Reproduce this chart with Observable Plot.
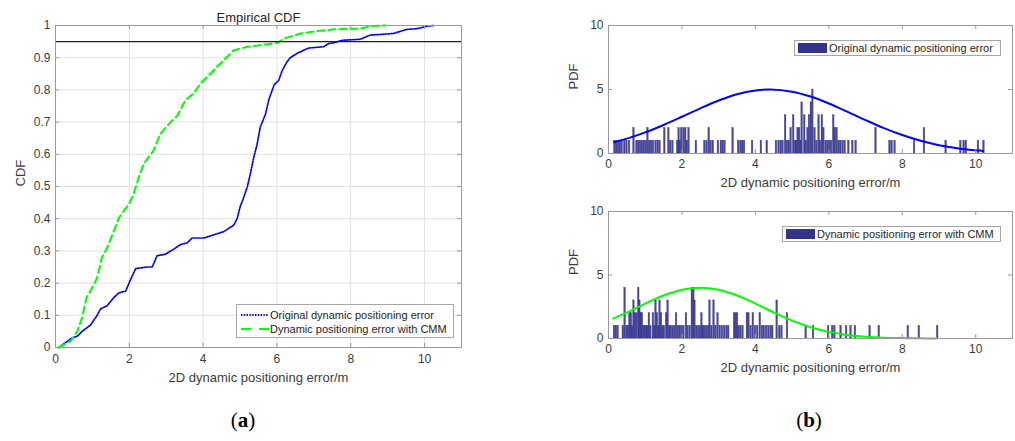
<!DOCTYPE html>
<html><head><meta charset="utf-8">
<script src="https://cdn.jsdelivr.net/npm/d3@7"></script>
<script src="https://cdn.jsdelivr.net/npm/@observablehq/plot@0.6"></script>
<style>
body{margin:0;background:#fff;}
#root{position:relative;width:1015px;height:441px;overflow:hidden;background:#fff;font-family:"Liberation Sans",Arial,sans-serif;}
.panel{position:absolute;}
.legend{position:absolute;background:#fff;border:1px solid #a6a6a6;box-sizing:border-box;font-size:11px;color:#262626;}
.legend .row{position:absolute;white-space:nowrap;line-height:12px;}
.legend svg{position:absolute;}
.tag{position:absolute;font-family:"Liberation Serif","Times New Roman",serif;font-size:21px;color:#000;transform:translateX(-50%);}
</style></head><body><div id="root"></div>
<script>
// ---------- data ----------
const xTicks = [0, 2, 4, 6, 8, 10];
const cdfTicks = [0, 0.1, 0.2, 0.3, 0.4, 0.5, 0.6, 0.7, 0.8, 0.9, 1];
const pdfTicks = [0, 5, 10];
const threshold = [0.95];

const seriesNames = ["Original dynamic positioning error", "Dynamic positioning error with CMM"];
const titleText = "Empirical CDF";
const xLabelText = "2D dynamic positioning error/m";
const cdfLabelText = "CDF";
const pdfLabelText = "PDF";

// empirical CDF, original error: [error (m), F]
const cdfOrig = [[0.09,0],[0.27,0.015],[0.45,0.03],[0.59,0.035],[0.72,0.05],[0.95,0.07],[1.13,0.1],[1.22,0.12],[1.4,0.13],[1.58,0.155],[1.72,0.17],[1.9,0.175],[2.03,0.21],[2.17,0.245],[2.48,0.25],[2.62,0.25],[2.75,0.285],[2.98,0.29],[3.2,0.305],[3.39,0.32],[3.57,0.325],[3.7,0.34],[4.02,0.34],[4.29,0.35],[4.56,0.36],[4.83,0.38],[4.92,0.4],[5.01,0.44],[5.08,0.46],[5.2,0.5],[5.28,0.54],[5.37,0.59],[5.46,0.63],[5.55,0.685],[5.69,0.725],[5.78,0.77],[5.92,0.815],[6.05,0.83],[6.14,0.86],[6.27,0.887],[6.36,0.9],[6.54,0.913],[6.72,0.923],[6.86,0.93],[7.26,0.934],[7.4,0.944],[7.53,0.946],[7.76,0.954],[8.25,0.957],[8.52,0.97],[9.15,0.975],[9.52,0.988],[9.79,0.99],[10.07,0.998],[10.25,1]];
// empirical CDF, with CMM
const cdfCmm = [[0.09,0],[0.41,0.02],[0.59,0.05],[0.72,0.093],[0.84,0.155],[0.95,0.176],[1.13,0.217],[1.26,0.28],[1.4,0.31],[1.58,0.362],[1.72,0.403],[1.85,0.424],[1.99,0.445],[2.12,0.478],[2.26,0.53],[2.39,0.571],[2.66,0.612],[2.84,0.664],[3.12,0.7],[3.3,0.72],[3.52,0.768],[3.75,0.79],[3.93,0.82],[4.16,0.846],[4.38,0.872],[4.65,0.903],[4.83,0.923],[5.2,0.934],[5.55,0.939],[6.01,0.946],[6.2,0.96],[6.64,0.975],[7.09,0.983],[7.54,0.988],[8.26,0.99],[8.53,0.998],[8.94,1]];

// histogram bins: [bin position (m), count]
const histOrig = [[0.15,1],[0.2,1],[0.25,1],[0.3,1],[0.35,1],[0.42,1],[0.48,1],[0.55,1],[0.67,2],[0.75,1],[0.8,1],[0.85,1],[0.9,1],[0.95,1],[1.0,1],[1.05,2],[1.1,1],[1.15,1],[1.2,1],[1.27,1],[1.33,1],[1.38,1],[1.51,2],[1.62,2],[1.67,1],[1.73,1],[1.86,1],[1.9,2],[1.93,1],[1.97,2],[2.03,2],[2.08,2],[2.12,1],[2.17,2],[2.37,1],[2.6,1],[2.66,1],[2.72,2],[2.77,1],[2.83,1],[2.97,1],[3.05,1],[3.1,1],[3.15,1],[3.37,2],[3.52,1],[3.58,1],[3.63,1],[3.68,1],[3.9,1],[4.14,1],[4.3,1],[4.55,1],[4.62,1],[4.68,1],[4.73,1],[4.8,3],[4.85,1],[4.9,1],[4.95,2],[5.02,3],[5.07,1],[5.1,1],[5.14,2],[5.18,2],[5.22,1],[5.25,4],[5.32,3],[5.36,1],[5.41,2],[5.45,3],[5.5,4],[5.54,5],[5.6,2],[5.65,1],[5.71,3],[5.75,1],[5.8,3],[5.84,2],[5.9,1],[5.95,1],[6.0,1],[6.05,1],[6.11,3],[6.15,2],[6.2,2],[6.25,1],[6.3,1],[6.36,1],[6.42,1],[6.52,1],[6.63,1],[6.72,1],[7.26,2],[7.64,1],[7.7,1],[7.78,1],[8.31,1],[8.58,2],[9.17,1],[9.57,1],[9.66,1],[9.72,1],[10.05,1],[10.2,1]];
const histCmm = [[0.14,1],[0.19,1],[0.24,1],[0.38,1],[0.43,4],[0.48,1],[0.52,1],[0.56,2],[0.6,2],[0.63,1],[0.67,3],[0.71,2],[0.75,2],[0.8,4],[0.83,3],[0.87,2],[0.9,2],[0.94,1],[0.98,1],[1.02,1],[1.05,1],[1.09,2],[1.13,1],[1.2,2],[1.24,1],[1.27,3],[1.31,2],[1.35,1],[1.38,3],[1.42,2],[1.46,1],[1.5,1],[1.56,2],[1.6,3],[1.64,1],[1.68,1],[1.73,1],[1.78,1],[1.83,2],[1.88,1],[1.93,1],[1.98,1],[2.03,1],[2.1,2],[2.14,1],[2.2,1],[2.26,4],[2.3,4],[2.33,3],[2.38,1],[2.43,1],[2.48,1],[2.52,2],[2.56,1],[2.6,1],[2.65,1],[2.7,1],[2.74,3],[2.79,1],[2.85,3],[2.9,1],[2.96,2],[3.02,1],[3.08,1],[3.14,1],[3.2,1],[3.25,1],[3.41,2],[3.45,2],[3.49,2],[3.53,1],[3.58,1],[3.64,1],[3.76,2],[3.8,2],[3.86,1],[3.92,2],[3.98,1],[4.04,1],[4.11,2],[4.17,1],[4.22,1],[4.28,1],[4.34,1],[4.4,1],[4.45,1],[4.57,3],[4.64,1],[4.7,1],[4.85,2],[5.36,1],[5.56,1],[5.97,1],[6.08,1],[6.14,1],[6.31,1],[6.46,1],[6.58,1],[6.7,1],[7.1,1],[7.35,1],[8.14,1],[8.44,1],[8.94,1]];

// fitted density curves: [error (m), value]
const fitOrig = [[0.15,0.88],[0.5,1.16],[1,1.65],[1.5,2.23],[2,2.87],[2.5,3.53],[3,4.14],[3.5,4.63],[4,4.92],[4.4,5.0],[5,4.83],[5.5,4.45],[6,3.91],[6.5,3.27],[7,2.61],[7.5,1.98],[8,1.44],[8.5,0.99],[9,0.65],[9.5,0.41],[10,0.25],[10.2,0.2]];
const fitCmm = [[0.13,1.57],[0.5,2.05],[1,2.75],[1.5,3.39],[2,3.84],[2.5,4.0],[3,3.84],[3.5,3.39],[4,2.75],[4.5,2.05],[5,1.41],[5.5,0.89],[6,0.52],[6.5,0.28],[7,0.14],[7.5,0.06],[8,0.03],[8.5,0.01],[8.94,0]];

// ---------- styling ----------
const FONT = "'Liberation Sans', Arial, sans-serif";
const BLUE = "#0000ff", GREEN = "#00ff00", BAR = "#34348e";
const AXIS = "#9a9a9a", TEXT = "#3c3c3c";
const BIN_W = 0.045;
const DOT = "1.4,1.4";

const root = document.getElementById("root");

function place(node, left, top) {
  const wrap = document.createElement("div");
  wrap.className = "panel";
  wrap.style.left = left + "px";
  wrap.style.top = top + "px";
  wrap.appendChild(node);
  root.appendChild(wrap);
}

function boxTicks(xt, yt, FW, FH) {
  const s = {stroke: AXIS, strokeWidth: 1};
  return [
    Plot.tickX(xt, {x: d => d, insetTop: FH - 4, ...s}),
    Plot.tickX(xt, {x: d => d, insetBottom: FH - 4, ...s}),
    Plot.tickY(yt, {y: d => d, insetRight: FW - 4, ...s}),
    Plot.tickY(yt, {y: d => d, insetLeft: FW - 4, ...s})
  ];
}

// ---------- (a) empirical CDF ----------
{
  const W = 470, H = 400, mL = 55, mR = 9, mT = 25, mB = 53;
  const FW = W - mL - mR, FH = H - mT - mB;
  const chart = Plot.plot({
    width: W, height: H, marginLeft: mL, marginRight: mR, marginTop: mT, marginBottom: mB,
    x: {domain: [0, 11]},
    y: {domain: [0, 1]},
    style: {fontFamily: FONT, fontSize: "12px", color: TEXT, background: "transparent", overflow: "visible"},
    marks: [
      Plot.gridX(xTicks, {x: d => d, stroke: "#e2e2e2", strokeOpacity: 1}),
      Plot.gridY(cdfTicks, {y: d => d, stroke: "#e2e2e2", strokeOpacity: 1}),
      Plot.line(cdfOrig, {x: d => d[0], y: d => d[1], stroke: BLUE, strokeWidth: 1.7, strokeDasharray: DOT}),
      Plot.line(cdfCmm, {x: d => d[0], y: d => d[1], stroke: GREEN, strokeWidth: 2, strokeDasharray: "7,4"}),
      Plot.ruleY(threshold, {stroke: "#1e1e1e", strokeWidth: 1.4}),
      Plot.frame({stroke: AXIS}),
      ...boxTicks(xTicks, cdfTicks, FW, FH),
      Plot.axisX(xTicks, {tickSize: 0, tickPadding: 7, label: null, tickFormat: d => String(d)}),
      Plot.axisY(cdfTicks, {tickSize: 0, tickPadding: 5, label: null, tickFormat: d => String(d)}),
      Plot.text([titleText], {frameAnchor: "top", dy: -4, lineAnchor: "bottom", fontSize: 13, text: d => d, fill: "#262626"}),
      Plot.text([xLabelText], {frameAnchor: "bottom", dy: 34, fontSize: 13, text: d => d, fill: TEXT}),
      Plot.text([cdfLabelText], {frameAnchor: "left", dx: -35, rotate: -90, fontSize: 13, text: d => d, fill: TEXT})
    ]
  });
  place(chart, 0, 0);
}

// ---------- (b) histograms with fitted densities ----------
function histChart(top, H, mT, mB, bins, fit, color) {
  const W = 455, mL = 48, mR = 3;
  const FW = W - mL - mR, FH = H - mT - mB;
  const lo = d3.min(bins, d => d[0]), hi = d3.max(bins, d => d[0]) + BIN_W;
  const chart = Plot.plot({
    width: W, height: H, marginLeft: mL, marginRight: mR, marginTop: mT, marginBottom: mB,
    x: {domain: [0, 11]},
    y: {domain: [0, 10]},
    style: {fontFamily: FONT, fontSize: "12px", color: TEXT, background: "transparent", overflow: "visible"},
    marks: [
      Plot.rectY(bins, {x1: d => d[0], x2: d => d[0] + BIN_W, y: d => d[1], fill: BAR, fillOpacity: 0.9, stroke: BAR, strokeWidth: 0.4, strokeOpacity: 0.7}),
      Plot.ruleY([0], {x1: lo, x2: hi, stroke: BAR, strokeWidth: 1.2}),
      Plot.line(fit, {x: d => d[0], y: d => d[1], stroke: color, strokeWidth: 2, curve: "catmull-rom"}),
      Plot.frame({stroke: AXIS}),
      ...boxTicks(xTicks, pdfTicks, FW, FH),
      Plot.axisX(xTicks, {tickSize: 0, tickPadding: 6, label: null, tickFormat: d => String(d)}),
      Plot.axisY(pdfTicks, {tickSize: 0, tickPadding: 5, label: null, tickFormat: d => String(d)}),
      Plot.text([xLabelText], {frameAnchor: "bottom", dy: 33, fontSize: 13, text: d => d, fill: TEXT}),
      Plot.text([pdfLabelText], {frameAnchor: "left", dx: -35, rotate: -90, fontSize: 13, text: d => d, fill: TEXT})
    ]
  });
  place(chart, 560, top);
}
histChart(0, 190, 25, 37, histOrig, fitOrig, BLUE);
histChart(190, 200, 21, 52, histCmm, fitCmm, GREEN);

// ---------- legends (HTML overlays) ----------
function lineLegend(left, top, width, height, rows) {
  const box = document.createElement("div");
  box.className = "legend";
  Object.assign(box.style, {left: left + "px", top: top + "px", width: width + "px", height: height + "px"});
  rows.forEach((r, i) => {
    const cy = 10 + i * 14;
    const svg = document.createElementNS("http://www.w3.org/2000/svg", "svg");
    svg.setAttribute("width", 30); svg.setAttribute("height", 6);
    svg.style.left = "3px"; svg.style.top = (cy - 3) + "px";
    const ln = document.createElementNS("http://www.w3.org/2000/svg", "line");
    ln.setAttribute("x1", 1); ln.setAttribute("x2", 29); ln.setAttribute("y1", 3); ln.setAttribute("y2", 3);
    ln.setAttribute("stroke", r.color); ln.setAttribute("stroke-width", r.width);
    ln.setAttribute("stroke-dasharray", r.dash);
    svg.appendChild(ln); box.appendChild(svg);
    const t = document.createElement("div");
    t.className = "row"; t.textContent = r.name;
    t.style.left = "33px"; t.style.top = (cy - 6) + "px";
    box.appendChild(t);
  });
  root.appendChild(box);
}
lineLegend(236, 304, 218, 34, [
  {name: seriesNames[0], color: BLUE, width: 1.8, dash: DOT},
  {name: seriesNames[1], color: GREEN, width: 2, dash: "10,8"}
]);

function patchLegend(left, top, width, name) {
  const box = document.createElement("div");
  box.className = "legend";
  Object.assign(box.style, {left: left + "px", top: top + "px", width: width + "px", height: "16px"});
  const p = document.createElement("div");
  Object.assign(p.style, {position: "absolute", left: "3px", top: "2px", width: "29px", height: "10px", background: BAR});
  box.appendChild(p);
  const t = document.createElement("div");
  t.className = "row"; t.textContent = name;
  t.style.left = "34px"; t.style.top = "1px";
  box.appendChild(t);
  root.appendChild(box);
}
patchLegend(794, 40, 207, seriesNames[0]);
patchLegend(782, 226, 219, seriesNames[1]);

// ---------- sub-figure tags ----------
function tag(x, letter) {
  const d = document.createElement("div");
  d.className = "tag";
  d.style.left = x + "px"; d.style.top = "408px";
  d.innerHTML = "(<b>" + letter + "</b>)";
  root.appendChild(d);
}
tag(243, "a");
tag(809, "b");
</script></body></html>
